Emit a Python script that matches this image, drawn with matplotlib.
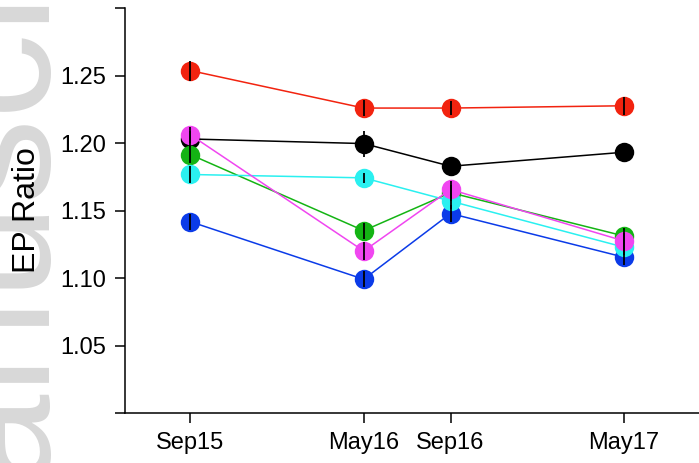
import matplotlib
matplotlib.use("Agg")
import matplotlib.pyplot as plt

# time axis in months from Sep 2015
months = [0, 8, 12, 20]
tick_labels = ["Sep15", "May16", "Sep16", "May17"]

# EP ratio per group, drawn in R palette order
black = [1.2032, 1.1998, 1.1830, 1.1934]
red = [1.2539, 1.2261, 1.2261, 1.2278]
green = [1.1917, 1.1353, 1.1634, 1.1313]
blue = [1.1420, 1.0993, 1.1480, 1.1156]
cyan = [1.1769, 1.1744, 1.1572, 1.1230]
magenta = [1.2064, 1.1202, 1.1658, 1.1276]

# half-length of the error bars
black_err = [0.0060, 0.0096, 0.0020, 0.0020]
red_err = [0.0074, 0.0060, 0.0055, 0.0065]
green_err = [0.0060, 0.0060, 0.0060, 0.0060]
blue_err = [0.0060, 0.0060, 0.0060, 0.0060]
cyan_err = [0.0060, 0.0037, 0.0060, 0.0060]
magenta_err = [0.0060, 0.0067, 0.0060, 0.0060]

series = [
    (black, black_err, "#000000"),
    (red, red_err, "#f2230f"),
    (green, green_err, "#14b414"),
    (blue, blue_err, "#0b3be8"),
    (cyan, cyan_err, "#2af0f0"),
    (magenta, magenta_err, "#f046f0"),
]

plt.rcParams['font.family'] = ['Liberation Sans', 'DejaVu Sans']

fig = plt.figure(figsize=(6.99, 4.63), dpi=100)

# faint watermark behind the plot
fig.text(36 / 699, (463 - 616.6) / 463, "Manuscript",
         rotation=90, rotation_mode="anchor", ha="left", va="baseline",
         fontsize=123, color="#d8d8d8", zorder=0)

ax = fig.add_axes([125 / 699, (463 - 413.3) / 463, 586 / 699, 405 / 463])
ax.patch.set_alpha(0)

for vals, errs, col in series:
    ax.plot(months, vals, color=col, lw=1.1, marker="o", ms=14,
            mec=col, mew=0, zorder=2)
for vals, errs, col in series:
    ax.errorbar(months, vals, yerr=errs, fmt="none", ecolor="black",
                elinewidth=1.3, capsize=0, zorder=3)

ax.set_xlim(-3, 24)
ax.set_ylim(1.0, 1.3)
ax.set_xticks(months)
ax.set_xticklabels(tick_labels)
ax.set_yticks([1.0, 1.05, 1.10, 1.15, 1.20, 1.25, 1.30])
ax.set_yticklabels(["", "1.05", "1.10", "1.15", "1.20", "1.25", ""])

for side in ["top", "right"]:
    ax.spines[side].set_visible(False)
for side in ["left", "bottom"]:
    ax.spines[side].set_linewidth(1.1)
ax.tick_params(length=7.5, width=1.1, labelsize=17, pad=6)

fig.text(42 / 699, 1 - 210.5 / 463, "EP Ratio", rotation=90, ha="right",
         va="center", fontsize=23)

fig.savefig("out.png", dpi=100)
